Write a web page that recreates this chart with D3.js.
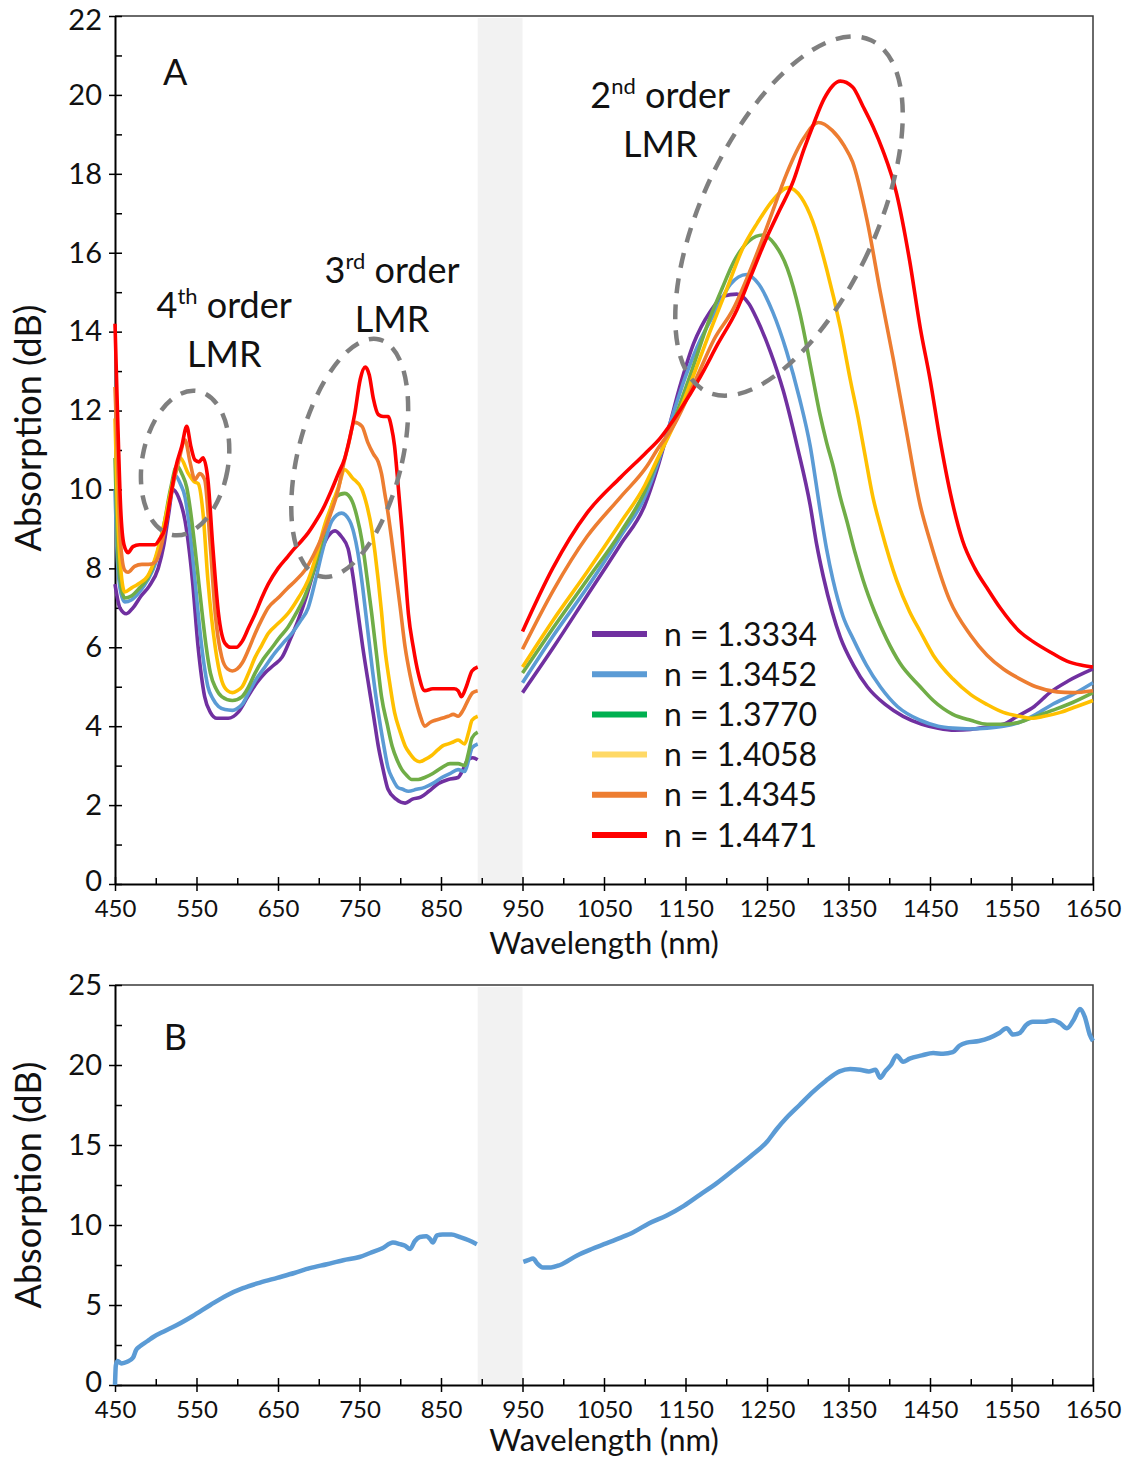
<!DOCTYPE html>
<html>
<head>
<meta charset="utf-8">
<script src="https://cdn.jsdelivr.net/npm/d3@7/dist/d3.min.js"></script>
<style>
  body { margin: 0; background: #fff; }
  svg { font-family: Lato, 'Open Sans', sans-serif; }
</style>
</head>
<body>
<div id="fig"></div>
<script>
// ---- data: [wavelength nm, absorption dB] ----
const seriesLabels = ['n = 1.3334', 'n = 1.3452', 'n = 1.3770', 'n = 1.4058', 'n = 1.4345', 'n = 1.4471'];
const lineColors = ['#7030A0', '#5B9BD5', '#70AD47', '#FFC000', '#ED7D31', '#FF0000'];
const legendColors = ['#7030A0', '#5B9BD5', '#00B050', '#FFD966', '#ED7D31', '#FF0000'];

const xMajor = [450, 550, 650, 750, 850, 950, 1050, 1150, 1250, 1350, 1450, 1550, 1650];
const xMinor = [500, 600, 700, 800, 900, 1000, 1100, 1200, 1300, 1400, 1500, 1600];
const yMajorA = [0, 2, 4, 6, 8, 10, 12, 14, 16, 18, 20, 22];
const yMinorA = [1, 3, 5, 7, 9, 11, 13, 15, 17, 19, 21];
const yMajorB = [0, 5, 10, 15, 20, 25];
const yMinorB = [2.5, 7.5, 12.5, 17.5, 22.5];
const gapBand = [895, 950];

const n1_3334_vis = [[450,7.6],[456,7.0],[464,6.85],[472,7.0],[482,7.3],[492,7.55],[503,8.0],[510,8.6],[516,9.4],[521,10.0],[528,9.8],[536,9.2],[545,7.7],[552,6.0],[560,4.75],[567,4.35],[575,4.2],[589,4.2],[601,4.35],[613,4.75],[624,5.1],[634,5.35],[645,5.55],[655,5.75],[665,6.2],[675,6.7],[685,7.3],[695,8.0],[703,8.45],[711,8.8],[720,8.95],[728,8.8],[736,8.5],[742,7.8],[748,6.9],[754,6.0],[760,5.2],[767,4.3],[773,3.5],[779,2.9],[785,2.4],[795,2.15],[806,2.05],[815,2.15],[825,2.2],[835,2.35],[847,2.55],[859,2.65],[871,2.7],[877,2.9],[883,3.15],[889,3.2],[895,3.15]];
const n1_3334_nir = [[950,4.85],[988,6.0],[1029,7.3],[1070,8.6],[1100,9.6],[1115,10.5],[1130,11.6],[1143,12.6],[1160,13.7],[1180,14.5],[1197,14.9],[1213,14.95],[1228,14.7],[1238,14.3],[1254,13.5],[1270,12.5],[1287,11.1],[1303,9.6],[1311,8.6],[1319,7.8],[1330,6.9],[1340,6.25],[1356,5.55],[1373,5.0],[1395,4.55],[1417,4.25],[1440,4.05],[1460,3.95],[1480,3.9],[1500,3.92],[1520,3.98],[1540,4.05],[1557,4.25],[1578,4.5],[1597,4.85],[1620,5.15],[1650,5.45]];

const n1_3452_vis = [[450,10.0],[453,8.2],[457,7.4],[462,7.15],[470,7.2],[480,7.4],[490,7.7],[500,8.15],[510,9.0],[517,9.8],[524,10.35],[530,10.15],[536,9.8],[541,9.1],[546,8.15],[550,7.3],[554,6.45],[559,5.6],[564,5.0],[570,4.7],[577,4.5],[585,4.42],[594,4.4],[600,4.45],[606,4.55],[614,4.85],[622,5.15],[634,5.5],[646,5.85],[656,6.1],[667,6.35],[677,6.65],[687,7.0],[696,7.7],[704,8.4],[710,8.85],[716,9.2],[728,9.4],[738,9.2],[743,8.9],[748,8.4],[754,7.5],[760,6.45],[766,5.4],[773,4.35],[779,3.6],[785,2.95],[791,2.65],[797,2.45],[803,2.4],[810,2.35],[820,2.4],[830,2.45],[840,2.55],[851,2.7],[861,2.8],[871,2.9],[879,2.85],[884,3.15],[888,3.45],[895,3.55]];
const n1_3452_nir = [[950,5.1],[988,6.3],[1029,7.5],[1070,8.8],[1100,9.8],[1115,10.6],[1130,11.6],[1149,12.8],[1164,13.6],[1189,14.6],[1205,15.2],[1225,15.45],[1240,15.2],[1257,14.5],[1274,13.5],[1290,12.3],[1303,11.1],[1315,9.5],[1323,8.5],[1331,7.7],[1343,6.8],[1356,6.2],[1372,5.55],[1389,5.0],[1410,4.5],[1438,4.15],[1460,4.0],[1478,3.95],[1500,3.93],[1520,3.95],[1540,4.0],[1560,4.1],[1580,4.3],[1600,4.55],[1625,4.8],[1650,5.1]];

const n1_3770_vis = [[450,10.8],[453,8.6],[457,7.6],[462,7.25],[470,7.3],[480,7.5],[490,7.75],[500,8.25],[510,9.1],[518,10.0],[526,10.6],[532,10.4],[538,10.05],[543,9.4],[548,8.55],[553,7.6],[557,6.85],[562,6.0],[567,5.35],[574,4.95],[581,4.75],[594,4.65],[606,4.75],[614,5.0],[622,5.35],[632,5.7],[643,6.0],[652,6.25],[662,6.5],[672,6.85],[683,7.3],[694,7.95],[704,8.7],[712,9.3],[720,9.8],[732,9.9],[741,9.7],[747,9.3],[753,8.7],[759,7.8],[765,6.85],[771,5.8],[777,4.75],[784,4.05],[790,3.5],[796,3.15],[802,2.9],[808,2.75],[814,2.65],[822,2.65],[830,2.7],[840,2.8],[851,2.95],[861,3.05],[871,3.05],[879,3.0],[884,3.35],[888,3.7],[895,3.85]];
const n1_3770_nir = [[950,5.35],[988,6.5],[1029,7.7],[1070,8.9],[1100,9.95],[1115,10.7],[1135,11.7],[1155,12.85],[1180,14.35],[1195,15.1],[1210,15.8],[1228,16.3],[1245,16.45],[1260,16.2],[1275,15.6],[1290,14.5],[1306,12.85],[1315,11.9],[1323,11.2],[1331,10.6],[1340,9.8],[1348,9.2],[1358,8.4],[1368,7.7],[1382,6.9],[1397,6.2],[1413,5.6],[1438,5.0],[1454,4.65],[1478,4.3],[1500,4.15],[1520,4.05],[1540,4.05],[1560,4.1],[1580,4.25],[1600,4.4],[1625,4.6],[1650,4.85]];

const n1_4058_vis = [[450,11.8],[453,9.5],[457,8.0],[462,7.4],[470,7.5],[478,7.6],[490,7.8],[500,8.3],[510,9.1],[520,10.1],[530,10.8],[540,10.4],[547,10.2],[552,10.15],[558,9.4],[564,7.7],[573,6.0],[581,5.15],[588,4.9],[594,4.85],[600,4.9],[606,5.0],[614,5.35],[622,5.75],[630,6.05],[638,6.35],[650,6.6],[662,6.85],[675,7.25],[687,7.7],[698,8.4],[708,9.15],[716,9.6],[724,10.05],[732,10.5],[741,10.3],[753,10.0],[759,9.6],[765,9.0],[769,8.4],[773,7.7],[777,6.9],[781,6.0],[787,5.1],[793,4.35],[800,3.85],[806,3.5],[812,3.3],[818,3.15],[824,3.1],[830,3.15],[838,3.25],[846,3.4],[852,3.5],[859,3.55],[865,3.6],[871,3.65],[879,3.55],[884,3.85],[888,4.15],[895,4.25]];
const n1_4058_nir = [[950,5.5],[988,6.7],[1029,7.9],[1070,9.15],[1100,10.1],[1115,10.75],[1135,11.6],[1159,12.85],[1180,14.0],[1201,15.1],[1220,16.1],[1238,16.75],[1258,17.35],[1276,17.65],[1292,17.4],[1306,16.8],[1323,15.6],[1340,14.1],[1352,12.8],[1362,11.8],[1370,10.9],[1380,9.8],[1390,9.0],[1409,7.7],[1425,6.9],[1438,6.4],[1454,5.8],[1478,5.2],[1500,4.8],[1520,4.55],[1540,4.35],[1560,4.25],[1575,4.2],[1590,4.25],[1610,4.35],[1630,4.5],[1650,4.65]];

const n1_4345_vis = [[450,12.6],[453,10.8],[457,8.6],[462,7.95],[466,7.9],[474,8.05],[483,8.1],[491,8.1],[499,8.15],[506,8.5],[513,9.2],[520,10.0],[528,10.7],[536,11.25],[542,10.7],[548,10.25],[554,10.4],[560,10.25],[567,8.55],[573,6.85],[581,5.75],[588,5.45],[594,5.4],[600,5.45],[606,5.6],[614,5.95],[622,6.35],[630,6.7],[638,7.0],[650,7.25],[662,7.5],[672,7.7],[683,7.95],[694,8.35],[704,8.8],[714,9.35],[724,10.0],[730,10.6],[736,11.1],[744,11.7],[753,11.6],[760,11.2],[767,10.9],[773,10.7],[777,10.4],[781,9.9],[785,9.4],[789,8.8],[793,8.15],[800,7.0],[806,6.0],[812,5.3],[818,4.75],[824,4.3],[830,4.0],[837,4.1],[843,4.15],[851,4.2],[859,4.25],[865,4.3],[871,4.25],[877,4.4],[883,4.65],[889,4.85],[895,4.9]];
const n1_4345_nir = [[950,5.95],[988,7.45],[1029,8.8],[1070,9.8],[1103,10.6],[1115,11.0],[1135,11.6],[1164,12.85],[1185,13.8],[1208,14.55],[1238,16.0],[1256,17.0],[1274,18.0],[1295,18.9],[1313,19.3],[1330,19.1],[1345,18.7],[1355,18.3],[1373,16.8],[1389,15.0],[1405,13.3],[1420,11.6],[1438,9.6],[1450,8.7],[1474,7.2],[1500,6.3],[1520,5.8],[1540,5.45],[1560,5.2],[1580,5.0],[1606,4.87],[1625,4.85],[1650,4.9]];

const n1_4471_vis = [[450,14.2],[453,12.0],[457,9.5],[461,8.6],[466,8.4],[472,8.55],[480,8.6],[490,8.6],[499,8.6],[505,8.75],[511,9.0],[518,9.8],[525,10.6],[532,11.1],[538,11.6],[543,11.1],[548,10.75],[553,10.7],[558,10.8],[564,10.25],[570,8.55],[577,6.85],[585,6.1],[592,6.0],[599,6.0],[606,6.15],[614,6.5],[622,6.85],[630,7.25],[638,7.6],[650,8.0],[662,8.3],[670,8.5],[679,8.7],[687,8.9],[695,9.15],[705,9.5],[716,10.0],[724,10.4],[732,10.8],[738,11.3],[744,11.9],[751,12.8],[757,13.1],[762,12.9],[767,12.3],[773,11.9],[779,11.85],[785,11.85],[789,11.6],[793,11.1],[797,10.2],[802,9.0],[806,7.9],[810,6.85],[816,6.0],[822,5.35],[830,4.9],[840,4.95],[850,4.95],[859,4.95],[866,4.95],[871,4.9],[875,4.75],[881,5.0],[888,5.4],[895,5.5]];
const n1_4471_nir = [[950,6.4],[987,8.0],[1029,9.4],[1070,10.3],[1100,10.9],[1119,11.3],[1143,12.0],[1168,12.85],[1190,13.7],[1213,14.55],[1230,15.4],[1250,16.4],[1266,17.1],[1282,17.8],[1295,18.6],[1306,19.2],[1320,19.9],[1340,20.35],[1355,20.2],[1368,19.7],[1380,19.2],[1392,18.6],[1409,17.5],[1425,15.8],[1438,14.1],[1450,12.8],[1462,11.3],[1475,9.9],[1490,8.7],[1505,8.0],[1520,7.5],[1536,7.0],[1560,6.4],[1576,6.15],[1600,5.85],[1618,5.65],[1635,5.55],[1650,5.5]];

const panelB_vis = [[450,0.0],[451,1.2],[453,1.5],[458,1.35],[465,1.45],[472,1.7],[476,2.2],[480,2.4],[490,2.75],[497,3.0],[510,3.35],[526,3.75],[545,4.3],[567,5.0],[587,5.6],[607,6.05],[628,6.4],[649,6.7],[670,7.0],[689,7.3],[710,7.55],[730,7.8],[750,8.0],[763,8.25],[778,8.55],[791,8.9],[800,8.8],[806,8.7],[812,8.5],[818,9.0],[824,9.25],[832,9.3],[837,9.1],[840,8.9],[845,9.35],[852,9.4],[863,9.4],[873,9.25],[884,9.05],[894,8.8]];
const panelB_nir = [[951,7.7],[957,7.8],[963,7.9],[968,7.6],[975,7.35],[985,7.35],[996,7.5],[1017,8.1],[1035,8.5],[1050,8.8],[1070,9.2],[1086,9.55],[1105,10.1],[1127,10.6],[1148,11.2],[1168,11.9],[1188,12.6],[1208,13.4],[1230,14.3],[1250,15.2],[1262,16.0],[1274,16.7],[1290,17.5],[1306,18.3],[1322,19.0],[1339,19.6],[1352,19.75],[1364,19.7],[1375,19.6],[1383,19.7],[1389,19.2],[1395,19.6],[1402,20.0],[1409,20.6],[1417,20.2],[1425,20.4],[1440,20.6],[1454,20.75],[1466,20.7],[1478,20.8],[1486,21.2],[1495,21.4],[1510,21.5],[1523,21.7],[1535,22.0],[1544,22.3],[1552,21.9],[1560,22.0],[1568,22.5],[1576,22.7],[1590,22.7],[1601,22.8],[1610,22.6],[1618,22.3],[1626,22.8],[1634,23.5],[1640,23.0],[1646,21.9],[1650,21.5]];

// resonance callouts, centres in data units: [wavelength, dB, rx px, ry px, tilt deg]
const lmrEllipses = [[536, 10.67, 43, 73, 10], [738, 10.8, 52, 122, 14], [1277, 16.93, 87, 194, 25]];
const lmrLabels = [
  { order: '4', sup: 'th', at: [584, 14.35] },
  { order: '3', sup: 'rd', at: [790, 15.23] },
  { order: '2', sup: 'nd', at: [1119, 19.67] },
];

const seriesA = seriesLabels.map((label, i) => ({
  label,
  color: lineColors[i],
  legendColor: legendColors[i],
  segments: [
    [n1_3334_vis, n1_3452_vis, n1_3770_vis, n1_4058_vis, n1_4345_vis, n1_4471_vis][i],
    [n1_3334_nir, n1_3452_nir, n1_3770_nir, n1_4058_nir, n1_4345_nir, n1_4471_nir][i],
  ],
}));

// ---- layout ----
const width = 1127;
const height = 1458;
const svg = d3.select('#fig').append('svg')
  .attr('width', width)
  .attr('height', height);

const x = d3.scaleLinear().domain([450, 1650]).range([115, 1093]);
const yA = d3.scaleLinear().domain([0, 22]).range([884, 16]);
const yB = d3.scaleLinear().domain([0, 25]).range([1385, 985]);

function drawFrame(y, yMajor, yMinor, yTitleCenter, xTitleCenter) {
  const [bottom, top] = y.range();
  const [left, right] = x.range();
  const g = svg.append('g');

  g.append('rect')
    .attr('x', x(gapBand[0]))
    .attr('y', top + 2)
    .attr('width', x(gapBand[1]) - x(gapBand[0]))
    .attr('height', bottom - top - 3)
    .attr('fill', '#f2f2f2');

  g.append('path')
    .attr('d', `M${left},${top}H${right}V${bottom}`)
    .attr('fill', 'none')
    .attr('stroke', '#3a3a3a')
    .attr('stroke-width', 1.5);

  // y axis
  g.append('g')
    .attr('transform', `translate(${left},0)`)
    .call(d3.axisLeft(y).tickValues(yMinor).tickSize(-7).tickFormat(''))
    .call(a => a.select('.domain').remove())
    .selectAll('line').attr('stroke-width', 1.5);
  const ya = g.append('g')
    .attr('transform', `translate(${left},0)`)
    .call(d3.axisLeft(y).tickValues(yMajor).tickSize(6).tickSizeOuter(0).tickPadding(7).tickFormat(d3.format('d')))
    .attr('font-family', 'Lato, sans-serif')
    .attr('font-size', 29);
  ya.select('.domain').attr('stroke-width', 2);
  ya.selectAll('.tick line').attr('x1', 7).attr('stroke-width', 1.5);
  ya.selectAll('.tick text').attr('fill', '#111');
  // keep the topmost label inside the page, lift the zero a little off the x labels
  ya.selectAll('.tick text').filter(d => d === yMajor[yMajor.length - 1] && y(d) < 20).attr('dy', '0.45em');
  ya.selectAll('.tick text').filter(d => d === 0).attr('dy', '0.22em');

  // x axis
  g.append('g')
    .attr('transform', `translate(0,${bottom})`)
    .call(d3.axisBottom(x).tickValues(xMinor).tickSize(-6).tickFormat(''))
    .call(a => a.select('.domain').remove())
    .selectAll('line').attr('stroke-width', 1.5);
  const xa = g.append('g')
    .attr('transform', `translate(0,${bottom})`)
    .call(d3.axisBottom(x).tickValues(xMajor).tickSize(7).tickSizeOuter(0).tickPadding(9).tickFormat(d3.format('d')))
    .attr('font-family', 'Lato, sans-serif')
    .attr('font-size', 24);
  xa.select('.domain').attr('stroke-width', 2);
  xa.selectAll('.tick line').attr('y1', -7).attr('stroke-width', 1.5);
  xa.selectAll('.tick text').attr('fill', '#111');

  g.append('text')
    .text('Absorption (dB)')
    .attr('transform', `translate(28,${yTitleCenter}) rotate(-90)`)
    .attr('text-anchor', 'middle')
    .attr('dy', '0.36em')
    .attr('font-size', 36)
    .attr('fill', '#111');

  g.append('text')
    .text('Wavelength (nm)')
    .attr('x', (left + right) / 2)
    .attr('y', xTitleCenter)
    .attr('text-anchor', 'middle')
    .attr('dy', '0.36em')
    .attr('font-size', 31)
    .attr('fill', '#111');
  return g;
}

drawFrame(yA, yMajorA, yMinorA, 428, 943);
drawFrame(yB, yMajorB, yMinorB, 1185, 1440);

// ---- panel A ----
const lineA = d3.line()
  .x(d => x(d[0]))
  .y(d => yA(d[1]))
  .curve(d3.curveMonotoneX);

const curvesA = svg.append('g');
seriesA.forEach(s => {
  s.segments.forEach(seg => {
    curvesA.append('path')
      .datum(seg)
      .attr('d', lineA)
      .attr('fill', 'none')
      .attr('stroke', s.color)
      .attr('stroke-width', 3.6)
      .attr('stroke-linejoin', 'round');
  });
});

const notes = svg.append('g');
notes.selectAll('ellipse')
  .data(lmrEllipses)
  .enter()
  .append('ellipse')
  .attr('transform', d => `translate(${x(d[0])},${yA(d[1])}) rotate(${d[4]})`)
  .attr('rx', d => d[2])
  .attr('ry', d => d[3])
  .attr('fill', 'none')
  .attr('stroke', '#7f7f7f')
  .attr('stroke-width', 4.5)
  .attr('stroke-dasharray', '15,11');

lmrLabels.forEach(l => {
  const t = notes.append('text')
    .attr('x', x(l.at[0]))
    .attr('y', yA(l.at[1]))
    .attr('text-anchor', 'middle')
    .attr('font-size', 36)
    .attr('fill', '#111');
  t.append('tspan').text(l.order);
  t.append('tspan').text(l.sup).attr('font-size', 22).attr('dy', -14);
  t.append('tspan').text(' order').attr('dy', 14);
  notes.append('text')
    .text('LMR')
    .attr('x', x(l.at[0]))
    .attr('y', yA(l.at[1]) + 49)
    .attr('text-anchor', 'middle')
    .attr('font-size', 36)
    .attr('fill', '#111');
});

svg.append('text').text('A')
  .attr('x', x(524)).attr('y', yA(20.25))
  .attr('text-anchor', 'middle').attr('font-size', 36).attr('fill', '#111');

const legend = svg.append('g').attr('transform', 'translate(592,634)');
seriesA.forEach((s, i) => {
  const row = legend.append('g').attr('transform', `translate(0,${i * 40.2})`);
  row.append('line')
    .attr('x1', 0).attr('x2', 55)
    .attr('stroke', s.legendColor)
    .attr('stroke-width', 6);
  row.append('text')
    .text(s.label)
    .attr('x', 72)
    .attr('dy', '0.36em')
    .attr('font-size', 32)
    .attr('fill', '#111');
});

// ---- panel B ----
const lineB = d3.line()
  .x(d => x(d[0]))
  .y(d => yB(d[1]))
  .curve(d3.curveMonotoneX);

[panelB_vis, panelB_nir].forEach(seg => {
  svg.append('path')
    .datum(seg)
    .attr('d', lineB)
    .attr('fill', 'none')
    .attr('stroke', '#5B9BD5')
    .attr('stroke-width', 4.5)
    .attr('stroke-linejoin', 'round');
});

svg.append('text').text('B')
  .attr('x', x(524)).attr('y', yB(20.94))
  .attr('text-anchor', 'middle').attr('font-size', 36).attr('fill', '#111');
</script>
</body>
</html>
